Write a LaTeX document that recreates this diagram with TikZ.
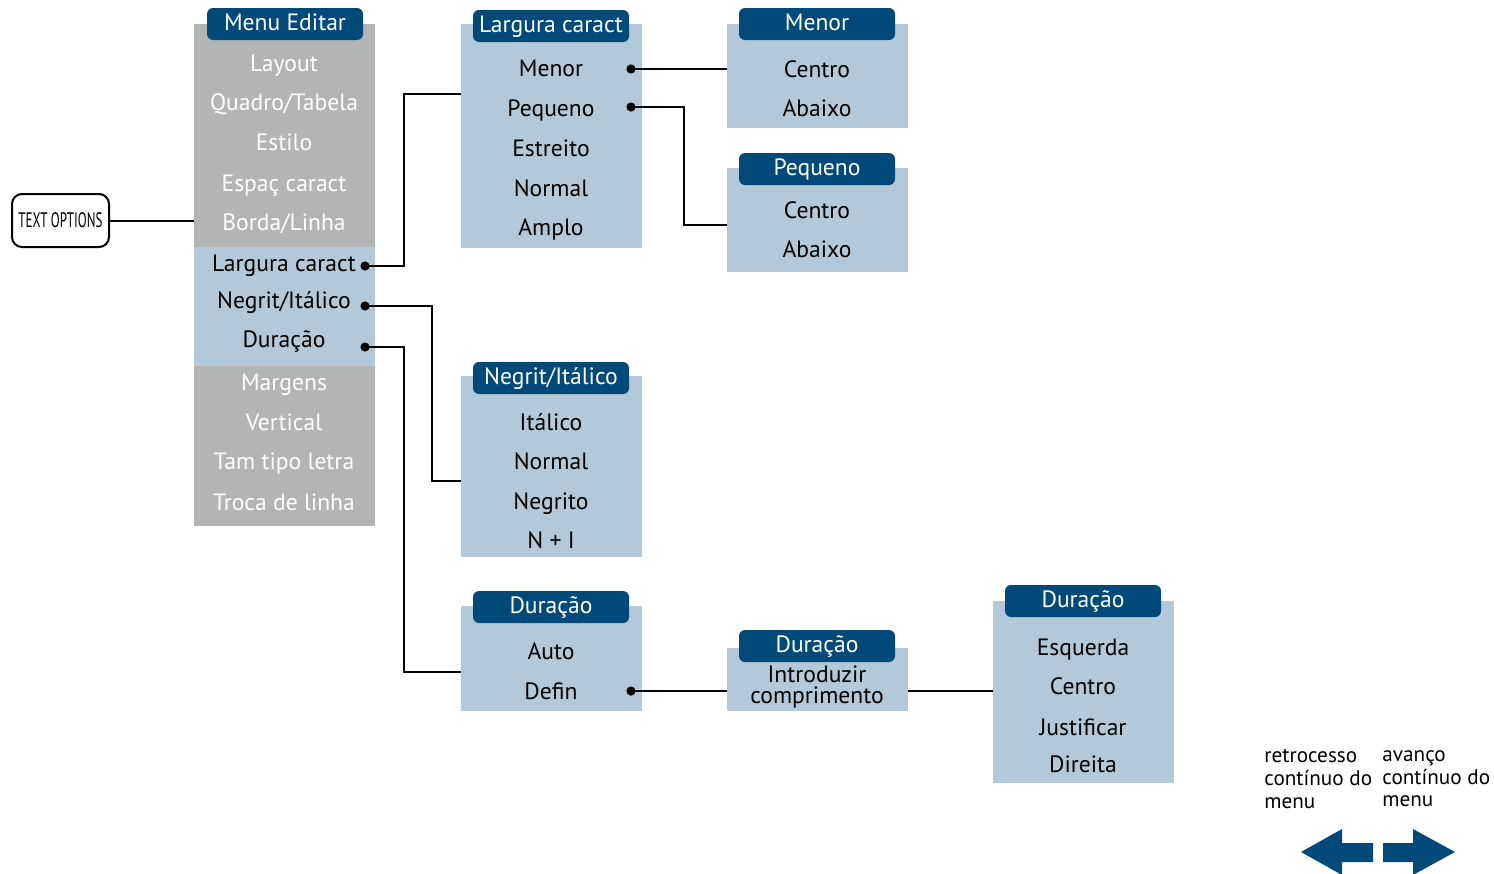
\documentclass[tikz,border=0pt]{standalone}
\usepackage{fontspec}
\setmainfont{PT Sans}
\newfontfamily\condfont[FakeStretch=0.62]{PT Sans}
\usetikzlibrary{positioning}

\definecolor{navy}{RGB}{0,74,122}
\definecolor{paleblue}{RGB}{179,201,217}
\definecolor{midgrey}{RGB}{179,180,180}

\begin{document}
\begin{tikzpicture}[
    x=0.5pt, y=-0.5pt,
    every node/.style={font=\fontsize{11.8}{13}\selectfont},
    panel/.style={fill=paleblue, minimum width=90.5pt, inner sep=0pt},
    greypanel/.style={fill=midgrey, minimum width=90.5pt, inner sep=0pt},
    head/.style={fill=navy, rounded corners=3pt, minimum width=78pt, minimum height=16pt, inner sep=0pt, text=white, text height=9pt, text depth=2.5pt},
    item/.style={inner sep=0pt, text height=9.5pt, text depth=2.5pt},
    greyitem/.style={item, text=white},
    dot/.style={circle, fill=black, inner sep=0pt, minimum size=4.6pt},
    link/.style={line width=1pt}
]
\useasboundingbox (0,0) rectangle (1494,873);

% edit menu column
\node[greypanel, minimum height=251pt] (edit) at (284.5,275) {};
\node[panel, minimum height=59.5pt] (editsel) at (284.5,306.5) {};
\node[head] (edithead) at (285,24) {Menu Editar};
\foreach \y/\t [count=\i] in {64/Layout, 103/{Quadro/Tabela}, 143/Estilo, 184/{Espaç caract}, 223/{Borda/Linha}, 383/Margens, 423/Vertical, 462/{Tam tipo letra}, 503/{Troca de linha}}
    \node[greyitem] (ed\i) at (284,\y) {\t};
\node[item] (edlarg) at (284,264) {Largura caract};
\node[item] (edneg) at (284,301) {Negrit/Itálico};
\node[item] (eddur) at (284,340) {Duração};
\node[dot] (dlarg) at (365,266) {};
\node[dot] (dneg) at (365,306) {};
\node[dot] (ddur) at (365,347) {};

% text options
\node[draw, rounded corners=5pt, line width=1pt, minimum width=48.5pt, minimum height=26.5pt, inner sep=0pt] (topt) at (60.5,220.5) {\condfont\fontsize{10.5}{11}\selectfont TEXT OPTIONS};
\draw[link] (topt) -- (topt -| edit.west);

% largura caract
\node[panel, minimum height=112pt] (larg) at (551.5,136) {};
\node[head] (larghead) at (551,26) {Largura caract};
\foreach \y/\t [count=\i] in {69/Menor, 109/Pequeno, 149/Estreito, 189/Normal, 228/Amplo}
    \node[item] (lg\i) at (551,\y) {\t};
\node[dot] (dmenor) at (631,69) {};
\node[dot] (dpeq) at (631,107) {};

% menor
\node[panel, minimum height=52pt] (menor) at (817.5,76) {};
\node[head] (menorhead) at (817,24) {Menor};
\node[item] (mn1) at (817,70) {Centro};
\node[item] (mn2) at (817,109) {Abaixo};

% pequeno
\node[panel, minimum height=52pt] (peq) at (817.5,220) {};
\node[head] (peqhead) at (817,169) {Pequeno};
\node[item] (pq1) at (817,211) {Centro};
\node[item] (pq2) at (817,250) {Abaixo};

% negrit/italico
\node[panel, minimum height=90.5pt] (neg) at (551.5,466.5) {};
\node[head] (neghead) at (551,378) {Negrit/Itálico};
\foreach \y/\t [count=\i] in {423/Itálico, 462/Normal, 502/Negrito, 541/{N + I}}
    \node[item] (ng\i) at (551,\y) {\t};

% duracao
\node[panel, minimum height=52.5pt] (dur) at (551.5,658.5) {};
\node[head] (durhead) at (551,607) {Duração};
\node[item] (du1) at (551,652) {Auto};
\node[item] (du2) at (551,692) {Defin};
\node[dot] (ddefin) at (631,691) {};

% introduzir comprimento
\node[panel, minimum height=31.5pt] (intro) at (817.5,679.5) {};
\node[head] (introhead) at (817,646) {Duração};
\node[align=center, inner sep=0pt, font=\fontsize{11.8}{10.6}\selectfont] (intxt) at (817,687) {Introduzir\\comprimento};

% duracao (alinhamento)
\node[panel, minimum height=91pt] (alin) at (1083.5,692) {};
\node[head] (alinhead) at (1083,601) {Duração};
\foreach \y/\t [count=\i] in {648/Esquerda, 687/Centro, 728/Justificar, 765/Direita}
    \node[item] (al\i) at (1083,\y) {\t};

% connectors
\coordinate (j1) at (404,94);
\coordinate (j2) at (432,481);
\coordinate (j3) at (404,672);
\coordinate (j4) at (684,225);
\draw[link] (dlarg.center) -| (j1) -- (j1 -| larg.west);
\draw[link] (dneg.center) -| (j2) -- (j2 -| neg.west);
\draw[link] (ddur.center) -| (j3) -- (j3 -| dur.west);
\draw[link] (dmenor.center) -- (dmenor -| menor.west);
\draw[link] (dpeq.center) -| (j4) -- (j4 -| peq.west);
\draw[link] (ddefin.center) -- (ddefin -| intro.west);
\draw[link] (ddefin -| intro.east) -- (ddefin -| alin.west);

% menu scroll legend
\node[align=left, anchor=west, inner sep=0pt, font=\fontsize{10.6}{11.3}\selectfont] (back) at (1264,779) {retrocesso\\contínuo do\\menu};
\node[align=left, anchor=west, inner sep=0pt, font=\fontsize{10.6}{11.3}\selectfont] (fwd) at (1382,779) {avanço\\contínuo do\\menu};
\fill[navy] (1301,852) -- (1342,829) -- (1342,843) -- (1373,843) -- (1373,862) -- (1342,862) -- (1342,875) -- cycle;
\fill[navy] (1455,852) -- (1413,829) -- (1413,843) -- (1383,843) -- (1383,862) -- (1413,862) -- (1413,875) -- cycle;
\end{tikzpicture}
\end{document}
